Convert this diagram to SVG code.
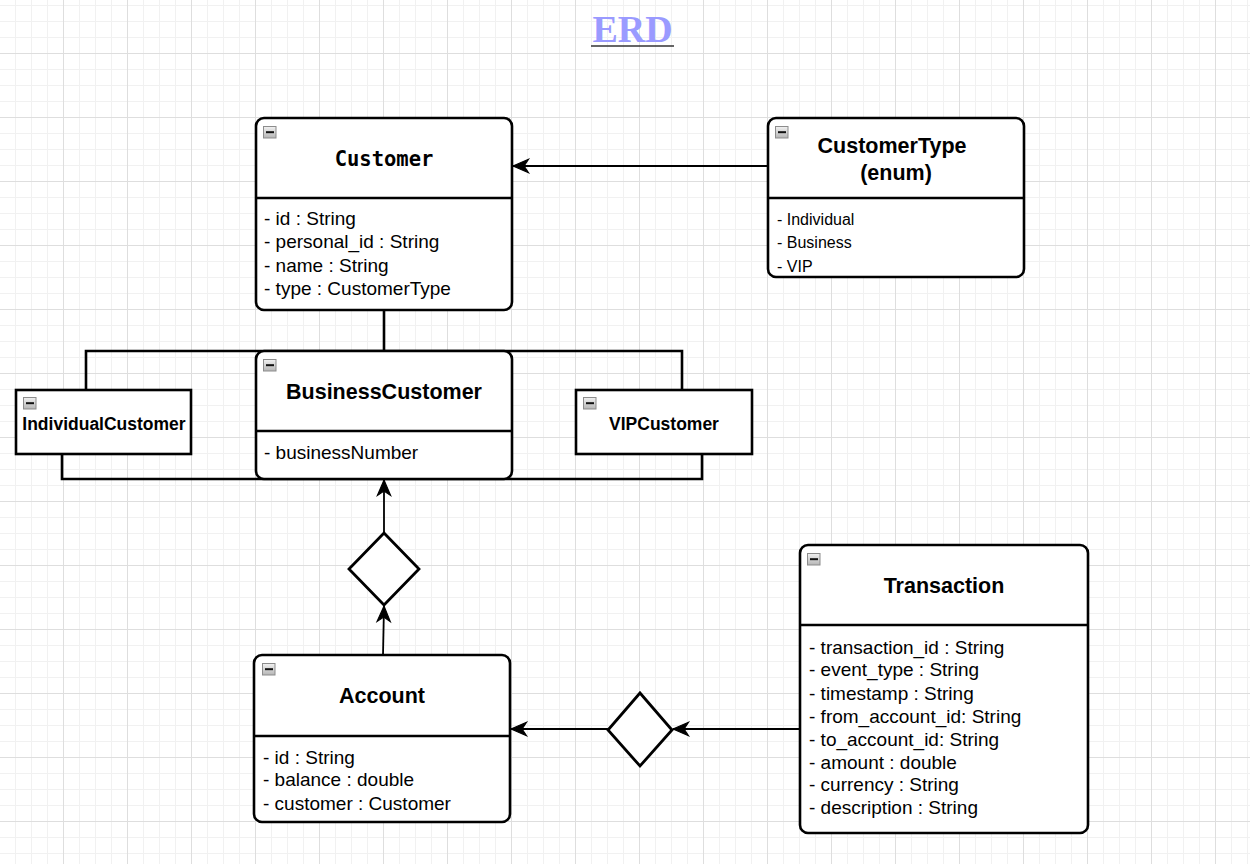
<svg xmlns="http://www.w3.org/2000/svg" width="1250" height="864" viewBox="0 0 1250 864">
<defs>
<pattern id="grid" x="0" y="-10" width="64" height="64" patternUnits="userSpaceOnUse">
<path d="M15.5,0V64M31.5,0V64M47.5,0V64M0,15.5H64M0,31.5H64M0,47.5H64" stroke="#f1f1f1" stroke-width="1" fill="none"/>
<path d="M63.5,0V64M0,63.5H64" stroke="#dedede" stroke-width="1" fill="none"/>
</pattern>
<linearGradient id="ig" x1="0" y1="0" x2="0" y2="1">
<stop offset="0" stop-color="#f2f2f2"/>
<stop offset="1" stop-color="#b5b5b5"/>
</linearGradient>
<g id="mini">
<rect x="0.5" y="0.5" width="12.5" height="11.5" fill="url(#ig)" stroke="#8c8c8c" stroke-width="1"/>
<rect x="3" y="5.2" width="8" height="2" fill="#111"/>
</g>
<marker id="arr" markerUnits="userSpaceOnUse" markerWidth="20" markerHeight="20" viewBox="-16 -8 18 16" refX="0" refY="0" orient="auto">
<path d="M0,0 L-14,-6 L-10,0 L-14,6 Z" fill="#000" stroke="#000" stroke-width="1"/>
</marker>
</defs>
<style>
.box{fill:#fff;stroke:#000;stroke-width:2.6}
.div{stroke:#000;stroke-width:2.6}
.t{font-family:"Liberation Sans",Arial,Helvetica,sans-serif;font-weight:bold;font-size:21.5px;fill:#000;text-anchor:middle}
.tm{font-family:"DejaVu Sans Mono","Liberation Mono",monospace;font-weight:bold;font-size:20.5px;fill:#000;text-anchor:middle}
.ts{font-family:"Liberation Sans",Arial,Helvetica,sans-serif;font-weight:bold;font-size:17.5px;fill:#000;text-anchor:middle}
.a{font-family:"Liberation Sans",Arial,Helvetica,sans-serif;font-size:19px;fill:#000}
.e{font-family:"Liberation Sans",Arial,Helvetica,sans-serif;font-size:16px;fill:#000}
.inh{fill:none;stroke:#000;stroke-width:2.6}
.con{fill:none;stroke:#000;stroke-width:1.8}
.rel{fill:#fff;stroke:#000;stroke-width:2.8}
</style>
<rect width="1250" height="864" fill="#fff"/>
<rect width="1250" height="864" fill="url(#grid)"/>

<g id="title">
<text x="632.5" y="42" font-family="'Liberation Serif','Times New Roman',serif" font-weight="bold" font-size="38px" fill="#9a9aff" text-anchor="middle">ERD</text>
<line x1="591" y1="46" x2="674" y2="46" stroke="#333" stroke-width="1.5"/>
</g>

<g id="customer">
<rect class="box" x="256" y="118" width="256" height="192" rx="8"/>
<line class="div" x1="256" y1="198" x2="512" y2="198"/>
<use href="#mini" x="263" y="126"/>
<text class="tm" x="384" y="166">Customer</text>
<text class="a" x="264" y="225">- id : String</text>
<text class="a" x="264" y="248">- personal_id : String</text>
<text class="a" x="264" y="272">- name : String</text>
<text class="a" x="264" y="295">- type : CustomerType</text>
</g>

<g id="customerType">
<rect class="box" x="768" y="118" width="256" height="159" rx="8"/>
<line class="div" x1="768" y1="198" x2="1024" y2="198"/>
<use href="#mini" x="775" y="126"/>
<text class="t" x="892" y="153">CustomerType</text>
<text class="t" x="896" y="180">(enum)</text>
<text class="e" x="777" y="225">- Individual</text>
<text class="e" x="777" y="248">- Business</text>
<text class="e" x="777" y="272">- VIP</text>
</g>

<g id="individualCustomer">
<rect class="box" x="16" y="390" width="175" height="64"/>
<use href="#mini" x="23" y="397"/>
<text class="ts" x="104" y="430">IndividualCustomer</text>
</g>

<g id="vipCustomer">
<rect class="box" x="576" y="390" width="176" height="64"/>
<use href="#mini" x="583" y="397"/>
<text class="ts" x="664" y="430">VIPCustomer</text>
</g>

<g id="connectors">
<line class="con" x1="768" y1="166" x2="513" y2="166" marker-end="url(#arr)"/>
<path class="inh" d="M384,310V351M86,390V351H682V390M62,454V479H702V454"/>
<line class="con" x1="384" y1="533" x2="384" y2="480" marker-end="url(#arr)"/>
<line class="con" x1="383" y1="655" x2="384" y2="606" marker-end="url(#arr)"/>
<line class="con" x1="608" y1="729" x2="511" y2="729" marker-end="url(#arr)"/>
<line class="con" x1="800" y1="729" x2="673" y2="729" marker-end="url(#arr)"/>
</g>

<g id="businessCustomer">
<rect class="box" x="256" y="351" width="256" height="128" rx="8"/>
<line class="div" x1="256" y1="431" x2="512" y2="431"/>
<use href="#mini" x="263" y="359"/>
<text class="t" x="384" y="399">BusinessCustomer</text>
<text class="a" x="264" y="459">- businessNumber</text>
</g>

<g id="relation1">
<polygon class="rel" points="384,533 419,569 384,605 349,569"/>
</g>

<g id="relation2">
<polygon class="rel" points="640,693 672,730 640,766 608,730"/>
</g>

<g id="account">
<rect class="box" x="254" y="655" width="256" height="167" rx="8"/>
<line class="div" x1="254" y1="736" x2="510" y2="736"/>
<use href="#mini" x="262" y="663"/>
<text class="t" x="382" y="703">Account</text>
<text class="a" x="263" y="764">- id : String</text>
<text class="a" x="263" y="786">- balance : double</text>
<text class="a" x="263" y="810">- customer : Customer</text>
</g>

<g id="transaction">
<rect class="box" x="800" y="545" width="288" height="288" rx="8"/>
<line class="div" x1="800" y1="625" x2="1088" y2="625"/>
<use href="#mini" x="807" y="553"/>
<text class="t" x="944" y="593">Transaction</text>
<text class="a" x="809" y="654">- transaction_id : String</text>
<text class="a" x="809" y="676">- event_type : String</text>
<text class="a" x="809" y="700">- timestamp : String</text>
<text class="a" x="809" y="723">- from_account_id: String</text>
<text class="a" x="809" y="746">- to_account_id: String</text>
<text class="a" x="809" y="769">- amount : double</text>
<text class="a" x="809" y="791">- currency : String</text>
<text class="a" x="809" y="814">- description : String</text>
</g>
</svg>
